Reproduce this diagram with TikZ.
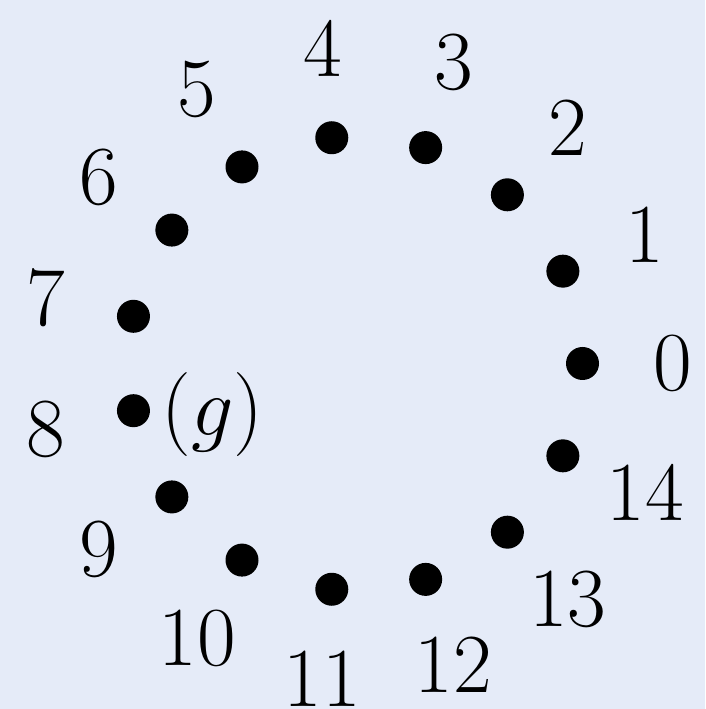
\RequirePackage{fix-cm}
\documentclass[tikz,border=0pt]{standalone}
\definecolor{bgcol}{RGB}{229,235,248}
\tikzset{
  dotnode/.style={circle,fill=black,inner sep=0pt,minimum size=33pt},
  labnode/.style={font=\fontsize{84}{100}\selectfont,inner sep=0pt}
}
\begin{document}
\begin{tikzpicture}[x=1pt,y=1pt]
\fill[bgcol] (0,0) rectangle (705,709);
\useasboundingbox (0,0) rectangle (705,709);
\coordinate (c) at (355.5,345.5);
\foreach \i in {0,...,14} {
  \node[dotnode] (d\i) at ([shift={(\i*24:227)}]c) {};
  \node[labnode] (l\i) at ([shift={(\i*24:317)}]c) {\i};
}
\node[labnode] (g) at (212.5,294) {$(g)$};
\end{tikzpicture}
\end{document}
